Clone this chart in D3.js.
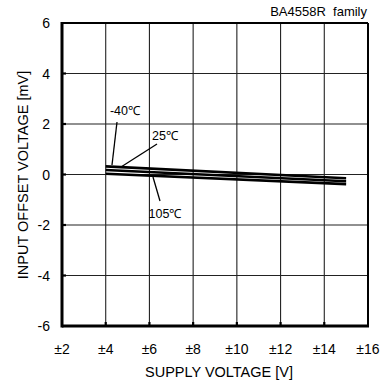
<!DOCTYPE html>
<html>
<head>
<meta charset="utf-8">
<script src="https://cdn.jsdelivr.net/npm/d3@7"></script>
<style>
  body { margin: 0; background: #fff; }
  text { font-family: "Liberation Sans", Arial, sans-serif; fill: #000; }
</style>
</head>
<body>
<svg id="canvas"></svg>
<script>
// Data.
var supplyVoltage = [4, 15];
var vio_m40 = [0.32, -0.15];
var vio_25 = [0.18, -0.27];
var vio_105 = [0.03, -0.38];
var xTicks = [2, 4, 6, 8, 10, 12, 14, 16];
var yTicks = [-6, -4, -2, 0, 2, 4, 6];

var series = [
  { name: '-40℃', values: vio_m40 },
  { name: '25℃', values: vio_25 },
  { name: '105℃', values: vio_105 }
];

// Canvas properties.
var canvas = { width: 390, height: 382 };
var plot = { left: 62, top: 23, right: 368, bottom: 326 };

var svg = d3.select('#canvas')
            .attr('width', canvas.width)
            .attr('height', canvas.height);

var xScale = d3.scaleLinear().domain([2, 16]).range([plot.left, plot.right]);
var yScale = d3.scaleLinear().domain([-6, 6]).range([plot.bottom, plot.top]);

// Grid lines.
svg.selectAll('.vgrid')
   .data(xTicks.slice(1, -1))
   .enter().append('line')
   .attr('x1', function(d) { return xScale(d); })
   .attr('x2', function(d) { return xScale(d); })
   .attr('y1', plot.top).attr('y2', plot.bottom)
   .attr('stroke', '#222').attr('stroke-width', 1.1);

svg.selectAll('.hgrid')
   .data(yTicks.slice(1, -1))
   .enter().append('line')
   .attr('y1', function(d) { return yScale(d); })
   .attr('y2', function(d) { return yScale(d); })
   .attr('x1', plot.left).attr('x2', plot.right)
   .attr('stroke', '#222').attr('stroke-width', 1.1);

// Small tick stubs.
svg.selectAll('.ytick')
   .data(yTicks.slice(1, -1))
   .enter().append('line')
   .attr('x1', plot.left).attr('x2', plot.left + 4)
   .attr('y1', function(d) { return yScale(d); })
   .attr('y2', function(d) { return yScale(d); })
   .attr('stroke', '#000').attr('stroke-width', 2.2);

svg.selectAll('.xtick')
   .data(xTicks.slice(1, -1))
   .enter().append('line')
   .attr('y1', plot.bottom).attr('y2', plot.bottom - 4)
   .attr('x1', function(d) { return xScale(d); })
   .attr('x2', function(d) { return xScale(d); })
   .attr('stroke', '#000').attr('stroke-width', 2.2);

// Data lines.
var line = d3.line()
             .x(function(d, i) { return xScale(supplyVoltage[i]); })
             .y(function(d) { return yScale(d); });

series.forEach(function(s) {
  svg.append('path')
     .attr('d', line(s.values))
     .attr('fill', 'none')
     .attr('stroke', '#000')
     .attr('stroke-width', 2.6);
});

// Frame: top/right thinner, left/bottom heavier.
svg.append('line').attr('x1', plot.left).attr('x2', plot.right)
   .attr('y1', plot.top).attr('y2', plot.top)
   .attr('stroke', '#000').attr('stroke-width', 2);
svg.append('line').attr('x1', plot.right).attr('x2', plot.right)
   .attr('y1', plot.top).attr('y2', plot.bottom)
   .attr('stroke', '#000').attr('stroke-width', 2);
svg.append('line').attr('x1', plot.left).attr('x2', plot.left)
   .attr('y1', plot.top - 1).attr('y2', plot.bottom + 1.5)
   .attr('stroke', '#000').attr('stroke-width', 3);
svg.append('line').attr('x1', plot.left).attr('x2', plot.right + 1)
   .attr('y1', plot.bottom).attr('y2', plot.bottom)
   .attr('stroke', '#000').attr('stroke-width', 3);

// Tick labels.
svg.selectAll('.ylabel')
   .data(yTicks)
   .enter().append('text')
   .attr('x', plot.left - 12)
   .attr('y', function(d) { return yScale(d) + 5; })
   .attr('text-anchor', 'end')
   .style('font-size', '14px')
   .text(function(d) { return d; });

svg.selectAll('.xlabel')
   .data(xTicks)
   .enter().append('text')
   .attr('x', function(d) { return xScale(d); })
   .attr('y', 354)
   .attr('text-anchor', 'middle')
   .style('font-size', '14px')
   .text(function(d) { return '±' + d; });

// Axis titles.
svg.append('text')
   .attr('text-anchor', 'middle')
   .attr('transform', 'translate(28,175) rotate(-90)')
   .style('font-size', '14.5px')
   .text('INPUT OFFSET VOLTAGE [mV]');

svg.append('text')
   .attr('x', 219).attr('y', 377)
   .attr('text-anchor', 'middle')
   .style('font-size', '14.5px')
   .text('SUPPLY VOLTAGE [V]');

svg.append('text')
   .attr('x', plot.right - 1).attr('y', 16)
   .attr('text-anchor', 'end')
   .style('font-size', '13px')
   .style('white-space', 'pre')
   .text('BA4558R  family');

// Curve annotations with leader lines.
var notes = [
  { text: series[0].name, tx: 125, ty: 115, from: [117, 122], to: [112, 165] },
  { text: series[1].name, tx: 165, ty: 140, from: [157, 144], to: [121, 167] },
  { text: series[2].name, tx: 165, ty: 218, from: [160, 201], to: [153, 177] }
];

notes.forEach(function(n) {
  svg.append('line')
     .attr('x1', n.from[0]).attr('y1', n.from[1])
     .attr('x2', n.to[0]).attr('y2', n.to[1])
     .attr('stroke', '#000').attr('stroke-width', 1.3);
  svg.append('text')
     .attr('x', n.tx).attr('y', n.ty)
     .attr('text-anchor', 'middle')
     .style('font-size', '12.5px')
     .text(n.text);
});
</script>
</body>
</html>
